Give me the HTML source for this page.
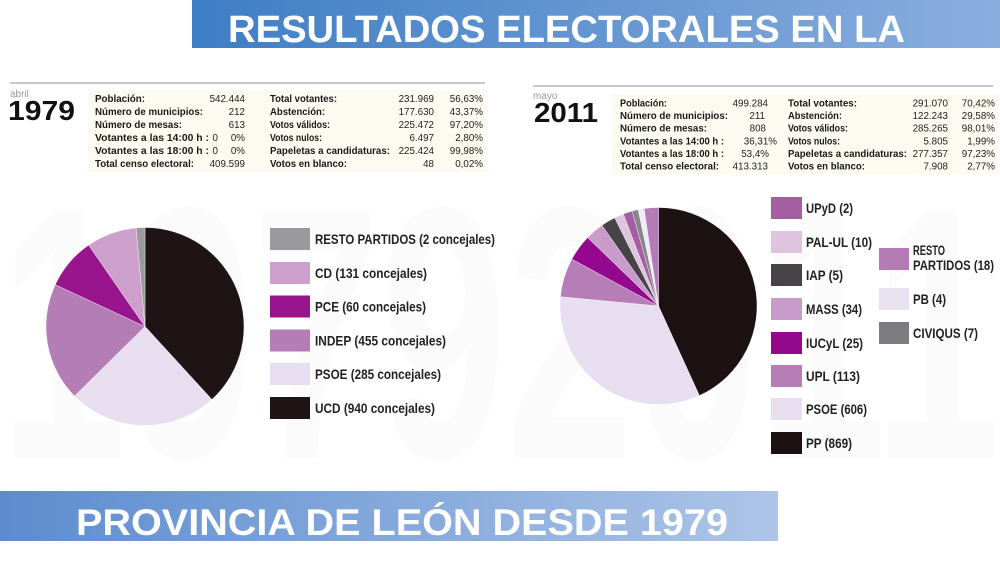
<!DOCTYPE html>
<html>
<head>
<meta charset="utf-8">
<style>
html,body{margin:0;padding:0;background:#fff;}
svg{display:block;}
text{font-family:"Liberation Sans",Arial,sans-serif;}
.lb{font-weight:bold;font-size:9.8px;fill:#1a1a1a;}
.vl{font-size:9.8px;fill:#222;}
.lg{font-weight:bold;font-size:14px;fill:#222;}
</style>
</head>
<body>
<svg width="1000" height="563" viewBox="0 0 1000 563" xmlns="http://www.w3.org/2000/svg">
<defs>
<linearGradient id="gt" x1="0" y1="0" x2="1" y2="0">
<stop offset="0" stop-color="#3e7ec5"/>
<stop offset="1" stop-color="#8aaede"/>
</linearGradient>
<linearGradient id="gb" x1="0" y1="0" x2="1" y2="0">
<stop offset="0" stop-color="#5c8ccf"/>
<stop offset="1" stop-color="#adc5e8"/>
</linearGradient>
</defs>
<rect width="1000" height="563" fill="#fff"/>
<!-- watermark -->
<text x="0" y="458" font-size="360" font-weight="bold" fill="#fbfbfb" textLength="1000" lengthAdjust="spacingAndGlyphs">19792011</text>

<!-- top banner -->
<rect x="192" y="0" width="808" height="48" fill="url(#gt)"/>
<text x="228" y="42" font-size="38" font-weight="bold" fill="#fff" textLength="677" lengthAdjust="spacingAndGlyphs">RESULTADOS ELECTORALES EN LA</text>

<!-- bottom banner -->
<rect x="0" y="491" width="778" height="50" fill="url(#gb)"/>
<text x="76" y="535" font-size="37" font-weight="bold" fill="#fff" textLength="652" lengthAdjust="spacingAndGlyphs">PROVINCIA DE LEÓN DESDE 1979</text>

<!-- LEFT TABLE 1979 -->
<rect x="10" y="82" width="475" height="2" fill="#c9c9c9"/>
<rect x="88" y="90" width="400" height="82" fill="#fcfaf1"/>
<text x="10" y="97" font-size="10" fill="#9a9a9a">abril</text>
<text x="8" y="120" font-size="28" font-weight="bold" fill="#111" textLength="67" lengthAdjust="spacingAndGlyphs">1979</text>

<text class="lb" x="95" y="102" textLength="50" lengthAdjust="spacingAndGlyphs">Población:</text>
<text class="lb" x="95" y="115" textLength="108" lengthAdjust="spacingAndGlyphs">Número de municipios:</text>
<text class="lb" x="95" y="128" textLength="87" lengthAdjust="spacingAndGlyphs">Número de mesas:</text>
<text class="lb" x="95" y="141" textLength="114" lengthAdjust="spacingAndGlyphs">Votantes a las 14:00 h :</text>
<text class="lb" x="95" y="154" textLength="114" lengthAdjust="spacingAndGlyphs">Votantes a las 18:00 h :</text>
<text class="lb" x="95" y="167" textLength="99" lengthAdjust="spacingAndGlyphs">Total censo electoral:</text>
<g class="vl" text-anchor="end">
<text x="245" y="102">542.444</text>
<text x="245" y="115">212</text>
<text x="245" y="128">613</text>
<text x="218" y="141">0</text><text x="245" y="141">0%</text>
<text x="218" y="154">0</text><text x="245" y="154">0%</text>
<text x="245" y="167">409.599</text>
</g>
<text class="lb" x="270" y="102" textLength="67" lengthAdjust="spacingAndGlyphs">Total votantes:</text>
<text class="lb" x="270" y="115" textLength="55" lengthAdjust="spacingAndGlyphs">Abstención:</text>
<text class="lb" x="270" y="128" textLength="60" lengthAdjust="spacingAndGlyphs">Votos válidos:</text>
<text class="lb" x="270" y="141" textLength="52" lengthAdjust="spacingAndGlyphs">Votos nulos:</text>
<text class="lb" x="270" y="154" textLength="120" lengthAdjust="spacingAndGlyphs">Papeletas a candidaturas:</text>
<text class="lb" x="270" y="167" textLength="77" lengthAdjust="spacingAndGlyphs">Votos en blanco:</text>
<g class="vl" text-anchor="end">
<text x="434" y="102">231.969</text><text x="483" y="102">56,63%</text>
<text x="434" y="115">177.630</text><text x="483" y="115">43,37%</text>
<text x="434" y="128">225.472</text><text x="483" y="128">97,20%</text>
<text x="434" y="141">6.497</text><text x="483" y="141">2,80%</text>
<text x="434" y="154">225.424</text><text x="483" y="154">99,98%</text>
<text x="434" y="167">48</text><text x="483" y="167">0,02%</text>
</g>

<!-- RIGHT TABLE 2011 -->
<rect x="533" y="85" width="460" height="2" fill="#c9c9c9"/>
<rect x="612" y="94" width="386" height="80" fill="#fcfaf1"/>
<text x="533" y="99" font-size="10" fill="#9a9a9a">mayo</text>
<text x="534" y="122" font-size="28" font-weight="bold" fill="#111" textLength="64" lengthAdjust="spacingAndGlyphs">2011</text>

<text class="lb" x="620" y="106.5" textLength="47" lengthAdjust="spacingAndGlyphs">Población:</text>
<text class="lb" x="620" y="119.1" textLength="108" lengthAdjust="spacingAndGlyphs">Número de municipios:</text>
<text class="lb" x="620" y="131.7" textLength="87" lengthAdjust="spacingAndGlyphs">Número de mesas:</text>
<text class="lb" x="620" y="144.3" textLength="104" lengthAdjust="spacingAndGlyphs">Votantes a las 14:00 h :</text>
<text class="lb" x="620" y="156.9" textLength="104" lengthAdjust="spacingAndGlyphs">Votantes a las 18:00 h :</text>
<text class="lb" x="620" y="169.5" textLength="99" lengthAdjust="spacingAndGlyphs">Total censo electoral:</text>
<g class="vl" text-anchor="end">
<text x="768" y="106.5">499.284</text>
<text x="765" y="119.1">211</text>
<text x="766" y="131.7">808</text>
<text x="777" y="144.3">36,31%</text>
<text x="769" y="156.9">53,4%</text>
<text x="768" y="169.5">413.313</text>
</g>
<text class="lb" x="788" y="106.5" textLength="69" lengthAdjust="spacingAndGlyphs">Total votantes:</text>
<text class="lb" x="788" y="119.1" textLength="54" lengthAdjust="spacingAndGlyphs">Abstención:</text>
<text class="lb" x="788" y="131.7" textLength="60" lengthAdjust="spacingAndGlyphs">Votos válidos:</text>
<text class="lb" x="788" y="144.3" textLength="52" lengthAdjust="spacingAndGlyphs">Votos nulos:</text>
<text class="lb" x="788" y="156.9" textLength="119" lengthAdjust="spacingAndGlyphs">Papeletas a candidaturas:</text>
<text class="lb" x="788" y="169.5" textLength="77" lengthAdjust="spacingAndGlyphs">Votos en blanco:</text>
<g class="vl" text-anchor="end">
<text x="948" y="106.5">291.070</text><text x="995" y="106.5">70,42%</text>
<text x="948" y="119.1">122.243</text><text x="995" y="119.1">29,58%</text>
<text x="948" y="131.7">285.265</text><text x="995" y="131.7">98,01%</text>
<text x="948" y="144.3">5.805</text><text x="995" y="144.3">1,99%</text>
<text x="948" y="156.9">277.357</text><text x="995" y="156.9">97,23%</text>
<text x="948" y="169.5">7.908</text><text x="995" y="169.5">2,77%</text>
</g>

<!-- LEFT PIE -->
<g stroke="#fff" stroke-width="0.4">
<path d="M145,326.5 L145,227.5 A99,99 0 0 1 211.88,399.49 Z" fill="#1e1315"/>
<path d="M145,326.5 L211.88,399.49 A99,99 0 0 1 74.51,396.02 Z" fill="#e7deef"/>
<path d="M145,326.5 L74.51,396.02 A99,99 0 0 1 55.28,284.66 Z" fill="#b47db6"/>
<path d="M145,326.5 L55.28,284.66 A99,99 0 0 1 88.64,245.11 Z" fill="#98158e"/>
<path d="M145,326.5 L88.64,245.11 A99,99 0 0 1 136.03,227.91 Z" fill="#cc9fcd"/>
<path d="M145,326.5 L136.03,227.91 A99,99 0 0 1 145,227.5 Z" fill="#9a9a9e"/>
</g>

<!-- LEFT LEGEND -->
<rect x="270" y="228" width="40" height="22" fill="#9a9a9e"/>
<rect x="270" y="262" width="40" height="22" fill="#cc9fcd"/>
<rect x="270" y="295.5" width="40" height="22" fill="#98158e"/>
<rect x="270" y="329.5" width="40" height="22" fill="#b47db6"/>
<rect x="270" y="363" width="40" height="22" fill="#e7deef"/>
<rect x="270" y="397" width="40" height="22" fill="#1e1315"/>
<text class="lg" x="315" y="244" textLength="180" lengthAdjust="spacingAndGlyphs">RESTO PARTIDOS (2 concejales)</text>
<text class="lg" x="315" y="278" textLength="112" lengthAdjust="spacingAndGlyphs">CD (131 concejales)</text>
<text class="lg" x="315" y="311.5" textLength="111" lengthAdjust="spacingAndGlyphs">PCE (60 concejales)</text>
<text class="lg" x="315" y="345.5" textLength="131" lengthAdjust="spacingAndGlyphs">INDEP (455 concejales)</text>
<text class="lg" x="315" y="379" textLength="126" lengthAdjust="spacingAndGlyphs">PSOE (285 concejales)</text>
<text class="lg" x="315" y="413" textLength="120" lengthAdjust="spacingAndGlyphs">UCD (940 concejales)</text>

<!-- RIGHT PIE -->
<g stroke="#fff" stroke-width="0.4">
<path d="M658.5,306 L658.5,207.5 A98.5,98.5 0 0 1 699.35,395.64 Z" fill="#1c1113"/>
<path d="M658.5,306 L699.35,395.64 A98.5,98.5 0 0 1 560.44,296.73 Z" fill="#e7dff0"/>
<path d="M658.5,306 L560.44,296.73 A98.5,98.5 0 0 1 571.86,259.15 Z" fill="#b77db7"/>
<path d="M658.5,306 L571.86,259.15 A98.5,98.5 0 0 1 587.65,237.57 Z" fill="#93088d"/>
<path d="M658.5,306 L587.65,237.57 A98.5,98.5 0 0 1 602.0,225.31 Z" fill="#c99bcb"/>
<path d="M658.5,306 L602.0,225.31 A98.5,98.5 0 0 1 614.71,217.77 Z" fill="#474347"/>
<path d="M658.5,306 L614.71,217.77 A98.5,98.5 0 0 1 623.36,213.98 Z" fill="#dfc4e0"/>
<path d="M658.5,306 L623.36,213.98 A98.5,98.5 0 0 1 632.18,211.09 Z" fill="#a35fa2"/>
<path d="M658.5,306 L632.18,211.09 A98.5,98.5 0 0 1 638.19,209.62 Z" fill="#868688"/>
<path d="M658.5,306 L638.19,209.62 A98.5,98.5 0 0 1 644.11,208.55 Z" fill="#efeaf4"/>
<path d="M658.5,306 L644.11,208.55 A98.5,98.5 0 0 1 658.5,207.5 Z" fill="#b47bb5"/>
</g>

<!-- RIGHT LEGEND col 1 -->
<rect x="771" y="197" width="31" height="22" fill="#a35fa2"/>
<rect x="771" y="231" width="31" height="22" fill="#dfc4e0"/>
<rect x="771" y="264" width="31" height="22" fill="#474347"/>
<rect x="771" y="298" width="31" height="22" fill="#c99bcb"/>
<rect x="771" y="332" width="31" height="22" fill="#93088d"/>
<rect x="771" y="365" width="31" height="22" fill="#b77db7"/>
<rect x="771" y="398" width="31" height="22" fill="#e7dff0"/>
<rect x="771" y="432" width="31" height="22" fill="#1c1113"/>
<text class="lg" x="806" y="213" textLength="47" lengthAdjust="spacingAndGlyphs">UPyD (2)</text>
<text class="lg" x="806" y="247" textLength="66" lengthAdjust="spacingAndGlyphs">PAL-UL (10)</text>
<text class="lg" x="806" y="280" textLength="37" lengthAdjust="spacingAndGlyphs">IAP (5)</text>
<text class="lg" x="806" y="314" textLength="56" lengthAdjust="spacingAndGlyphs">MASS (34)</text>
<text class="lg" x="806" y="348" textLength="57" lengthAdjust="spacingAndGlyphs">IUCyL (25)</text>
<text class="lg" x="806" y="381" textLength="54" lengthAdjust="spacingAndGlyphs">UPL (113)</text>
<text class="lg" x="806" y="414" textLength="61" lengthAdjust="spacingAndGlyphs">PSOE (606)</text>
<text class="lg" x="806" y="448" textLength="46" lengthAdjust="spacingAndGlyphs">PP (869)</text>

<!-- RIGHT LEGEND col 2 -->
<rect x="879" y="248" width="30" height="22" fill="#b47bb5"/>
<rect x="879" y="288" width="30" height="22" fill="#e9e2f0"/>
<rect x="879" y="322" width="30" height="22" fill="#7c7c80"/>
<text class="lg" x="913" y="255" textLength="32" lengthAdjust="spacingAndGlyphs">RESTO</text>
<text class="lg" x="913" y="270" textLength="81" lengthAdjust="spacingAndGlyphs">PARTIDOS (18)</text>
<text class="lg" x="913" y="304" textLength="33" lengthAdjust="spacingAndGlyphs">PB (4)</text>
<text class="lg" x="913" y="338" textLength="65" lengthAdjust="spacingAndGlyphs">CIVIQUS (7)</text>
</svg>
</body>
</html>
